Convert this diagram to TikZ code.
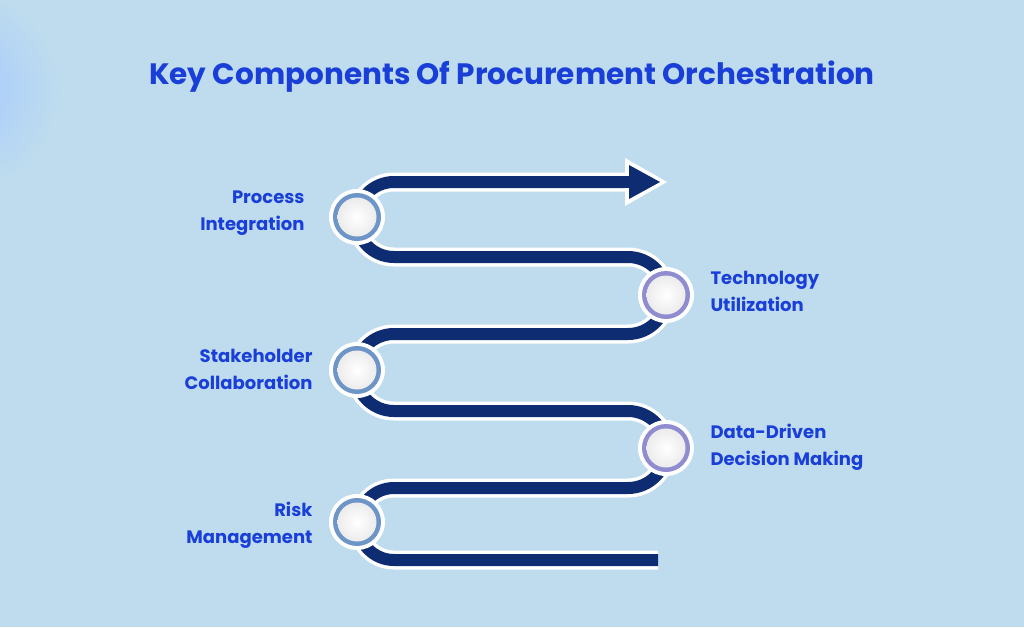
\documentclass[tikz,border=0pt]{standalone}
\usepackage{fontspec}
\setmainfont{Poppins}
\begin{document}
\begin{tikzpicture}[x=1pt,y=-1pt,
 lbl/.style={font=\bfseries\fontsize{18}{27}\selectfont,text=titleblue,align=#1},
 ring/.style={circle,minimum size=56pt,fill=white,draw=none}]
\definecolor{bg}{HTML}{BEDCEE}
\definecolor{titleblue}{HTML}{1A3FD9}
\definecolor{ribbon}{HTML}{0E2C72}
\definecolor{ringblue}{HTML}{6E95C8}
\definecolor{ringviolet}{HTML}{8F8CD0}
\useasboundingbox (0,0) rectangle (1024,627);
\clip (0,0) rectangle (1024,627);
\fill[bg] (0,0) rectangle (1024,627);
\shade[inner color=cyan!40!blue!35!white,outer color=bg] (-40,90) circle (100);
\node[font=\bfseries\fontsize{29.5}{34}\selectfont,text=titleblue] (title) at (512,77) {Key Components Of Procurement Orchestration};
% ribbon path
\def\rib{(630,182) -- (394,182) arc[start angle=270,end angle=90,radius=37.5] -- (628,257) arc[start angle=-90,end angle=90,radius=38.5] -- (394,334) arc[start angle=270,end angle=90,radius=38.5] -- (628,411) arc[start angle=-90,end angle=90,radius=38.5] -- (394,488) arc[start angle=270,end angle=90,radius=36] -- (658,560)}
\draw[white,line width=19pt,line join=round] \rib;
\draw[ribbon,line width=12pt,line join=round] \rib;
\fill[white] (625,158) -- (667,182) -- (625,206) -- cycle;
\fill[ribbon] (629,165) -- (660,182) -- (629,199) -- cycle;
\fill[ribbon] (618,176) rectangle (632,188);
% circles
\foreach \n/\x/\y/\c in {c1/357/217/ringblue,c2/666/295/ringviolet,c3/357/370/ringblue,c4/666/448/ringviolet,c5/357/522/ringblue}{
 \node[ring] (\n) at (\x,\y) {};
 \fill[\c] (\n.center) circle (24);
 \shade[inner color=white,outer color=gray!15] (\n.center) circle (19.5);
}
\node[lbl=right,anchor=east] (l1) at (308,213) {Process\\Integration};
\node[lbl=left,anchor=west] (l2) at (707,291) {Technology\\Utilization};
\node[lbl=right,anchor=east] (l3) at (316,369) {Stakeholder\\Collaboration};
\node[lbl=left,anchor=west] (l4) at (707,447) {Data-Driven\\Decision Making};
\node[lbl=right,anchor=east] (l5) at (316,525) {Risk\\Management};
\end{tikzpicture}
\end{document}
